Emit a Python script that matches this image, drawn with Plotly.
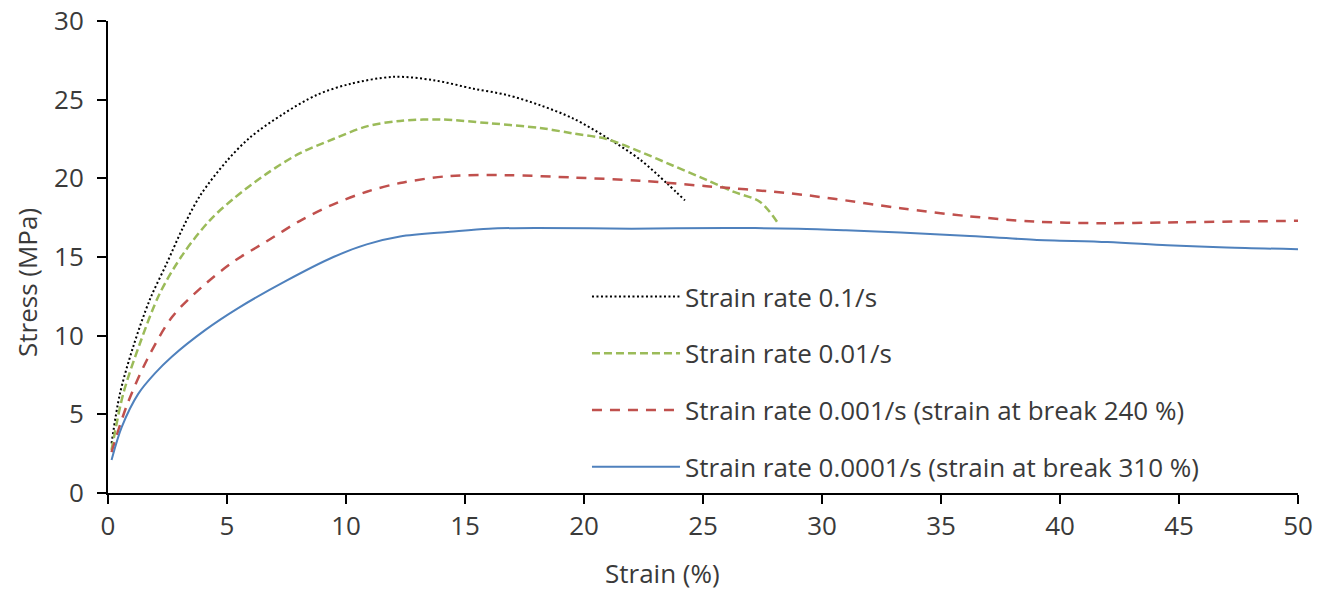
import plotly.graph_objects as go

# Strain rate 0.1/s
x1 = [0.15, 0.5, 1.06, 1.76, 2.47, 3.16, 3.87, 4.99, 5.97, 7.37, 8.77, 10.17, 12.0, 13.67, 15.35, 16.75, 18.15, 19.55, 20.95, 22.35, 23.47, 24.24]
y1 = [3.16, 6.3, 9.3, 12.3, 14.6, 16.9, 18.9, 21.1, 22.6, 24.1, 25.3, 26.0, 26.45, 26.24, 25.7, 25.3, 24.65, 23.8, 22.6, 21.2, 19.7, 18.6]

# Strain rate 0.01/s
x2 = [0.15, 0.64, 1.34, 2.18, 3.16, 4.29, 5.27, 6.67, 8.07, 9.47, 10.87, 12.27, 14.0, 16.05, 18.15, 19.55, 20.95, 22.35, 23.75, 25.15, 26.27, 27.4, 28.17]
y2 = [2.73, 6.3, 9.5, 12.7, 15.2, 17.35, 18.7, 20.3, 21.6, 22.5, 23.3, 23.65, 23.74, 23.5, 23.2, 22.85, 22.5, 21.7, 20.8, 19.9, 19.15, 18.5, 17.1]

# Strain rate 0.001/s
x3 = [0.15, 0.8, 1.65, 2.7, 3.95, 5.27, 6.67, 8.07, 9.47, 10.87, 12.27, 14.37, 16.75, 19.55, 22.35, 25.15, 28.65, 30.5, 33.3, 36.1, 38.9, 41.7, 44.5, 47.3, 50.0]
y3 = [2.6, 5.6, 8.5, 11.2, 13.1, 14.7, 16.0, 17.3, 18.35, 19.15, 19.7, 20.15, 20.2, 20.05, 19.85, 19.5, 19.05, 18.7, 18.1, 17.6, 17.25, 17.15, 17.2, 17.25, 17.3]

# Strain rate 0.0001/s
x4 = [0.15, 0.58, 1.27, 1.97, 2.68, 4.08, 5.47, 7.44, 9.47, 10.87, 12.27, 14.37, 16.0, 18.0, 22.0, 26.0, 29.0, 31.0, 33.3, 36.0, 38.9, 42.0, 44.5, 47.0, 50.0]
y4 = [2.1, 4.2, 6.3, 7.6, 8.66, 10.35, 11.75, 13.45, 15.0, 15.8, 16.3, 16.6, 16.8, 16.85, 16.8, 16.85, 16.8, 16.7, 16.55, 16.35, 16.1, 15.95, 15.75, 15.6, 15.5]

names = ["Strain rate 0.1/s", "Strain rate 0.01/s",
         "Strain rate 0.001/s (strain at break 240 %)",
         "Strain rate 0.0001/s (strain at break 310 %)"]
x_ticks = [0, 5, 10, 15, 20, 25, 30, 35, 40, 45, 50]
y_ticks = [0, 5, 10, 15, 20, 25, 30]

FONT = "Open Sans"
TXT = "#3a3a3a"
FS = 26

fig = go.Figure()
fig.add_trace(go.Scatter(x=x1, y=y1, mode="lines", name=names[0], legendgroup="a",
                         line=dict(color="#000000", width=2, dash="2px,2.5px", shape="spline", smoothing=0.9)))
fig.add_trace(go.Scatter(x=x2, y=y2, mode="lines", name=names[1], legendgroup="b",
                         line=dict(color="#9BBB59", width=2.5, dash="8px,4px", shape="spline", smoothing=0.9)))
fig.add_trace(go.Scatter(x=x3, y=y3, mode="lines", name=names[2], legendgroup="c",
                         line=dict(color="#C0504D", width=2.5, dash="10px,8px", shape="spline", smoothing=0.9)))
fig.add_trace(go.Scatter(x=x4, y=y4, mode="lines", name=names[3], legendgroup="d",
                         line=dict(color="#4F81BD", width=2, shape="spline", smoothing=0.9)))

fig.update_layout(
    width=1319, height=590,
    margin=dict(l=108, r=21, t=21, b=97, autoexpand=False),
    paper_bgcolor="white", plot_bgcolor="white",
    font=dict(family=FONT, size=FS, color=TXT),
    showlegend=True,
    legend=dict(x=0.4025, y=0.466, xanchor="left", yanchor="top",
                bgcolor="rgba(0,0,0,0)", itemwidth=88, tracegroupgap=20,
                font=dict(family=FONT, size=FS, color=TXT)),
    xaxis=dict(range=[0, 50], tickvals=x_ticks, showgrid=False, zeroline=False,
               showline=True, linecolor="black", linewidth=2, automargin=False,
               ticks="outside", ticklen=9, tickwidth=2, tickcolor="black",
               tickfont=dict(size=FS, color=TXT, family=FONT)),
    yaxis=dict(range=[0, 30], tickvals=y_ticks, showgrid=False, zeroline=False,
               showline=True, linecolor="black", linewidth=2, automargin=False,
               ticks="outside", ticklen=9, tickwidth=2, tickcolor="black",
               ticklabelstandoff=8,
               tickfont=dict(size=FS, color=TXT, family=FONT)),
    annotations=[
        dict(text="Strain (%)", xref="paper", yref="paper", x=(662 - 108) / 1190, y=(493 - 573) / 472,
             xanchor="center", yanchor="middle", showarrow=False,
             font=dict(size=FS, color=TXT, family=FONT)),
        dict(text="Stress (MPa)", xref="paper", yref="paper", x=(27 - 108) / 1190, y=(493 - 283) / 472,
             xanchor="center", yanchor="middle", showarrow=False, textangle=-90,
             font=dict(size=FS, color=TXT, family=FONT)),
    ],
)

fig.write_html("out.html")
